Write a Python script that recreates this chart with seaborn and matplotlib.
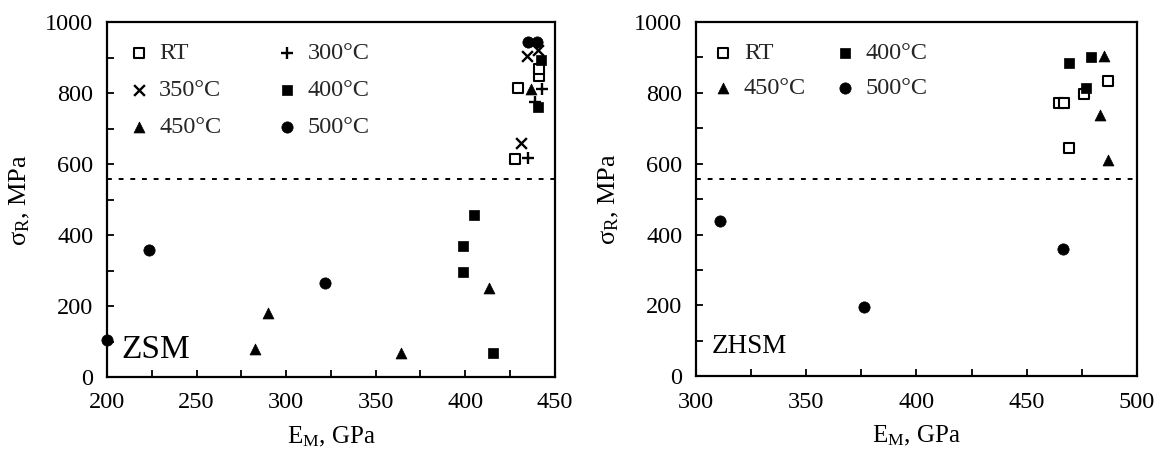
import numpy as np
import pandas as pd
import matplotlib
matplotlib.use("Agg")
import matplotlib.pyplot as plt
import seaborn as sns
from matplotlib.ticker import MultipleLocator

# ---------------- data ----------------
zsm_rt_x = [427.7, 429.5, 441.3, 441.3]
zsm_rt_y = [613, 813, 848, 869]
zsm_300_x = [435.1, 438.8, 443.0]
zsm_300_y = [616, 775, 810]
zsm_350_x = [431.4, 434.5, 440.5]
zsm_350_y = [658, 905, 920]
zsm_400_x = [398.9, 398.9, 404.8, 415.6, 440.7, 442.5]
zsm_400_y = [295, 369, 456, 67, 761, 893]
zsm_450_x = [282.6, 290.0, 364.4, 413.4, 436.6]
zsm_450_y = [78, 181, 67, 250, 810]
zsm_500_x = [200.0, 223.4, 321.7, 435.0, 440.0]
zsm_500_y = [104, 358, 264, 945, 945]

zhsm_rt_x = [464.5, 467.0, 469.2, 476.0, 487.0]
zhsm_rt_y = [770, 770, 643, 797, 833]
zhsm_400_x = [469.2, 476.9, 479.0]
zhsm_400_y = [883, 815, 900]
zhsm_450_x = [483.3, 485.2, 487.0]
zhsm_450_y = [737, 905, 610]
zhsm_500_x = [310.9, 376.2, 466.3]
zhsm_500_y = [439, 196, 358]

threshold = 557

sns.set_theme(style="ticks")
plt.rcParams['font.family'] = ['Liberation Serif', 'DejaVu Serif']
plt.rcParams['mathtext.fontset'] = 'custom'
plt.rcParams['mathtext.rm'] = 'Liberation Serif'
plt.rcParams['mathtext.it'] = 'Liberation Serif:italic'

FS = 17.5

styles = {
    'RT': dict(marker='s', s=48, facecolor='white', edgecolor='black', linewidth=1.5),
    '300°C': dict(marker='+', s=80, color='black', linewidth=1.7),
    '350°C': dict(marker='x', s=60, color='black', linewidth=1.7),
    '400°C': dict(marker='s', s=62, color='black', edgecolor='black', linewidth=0.5),
    '450°C': dict(marker='^', s=62, color='black', edgecolor='black', linewidth=0.5),
    '500°C': dict(marker='o', s=66, color='black', edgecolor='black', linewidth=0.5),
}

fig = plt.figure(figsize=(11.57, 4.49), dpi=100)
ax1 = fig.add_axes([0.0925, 0.160, 0.387, 0.791])
ax2 = fig.add_axes([0.6016, 0.162, 0.381, 0.789])

left_series = [('RT', zsm_rt_x, zsm_rt_y), ('350°C', zsm_350_x, zsm_350_y),
               ('450°C', zsm_450_x, zsm_450_y), ('300°C', zsm_300_x, zsm_300_y),
               ('400°C', zsm_400_x, zsm_400_y), ('500°C', zsm_500_x, zsm_500_y)]
right_series = [('RT', zhsm_rt_x, zhsm_rt_y), ('450°C', zhsm_450_x, zhsm_450_y),
                ('400°C', zhsm_400_x, zhsm_400_y), ('500°C', zhsm_500_x, zhsm_500_y)]

def draw(ax, series, xlim, name, name_size, name_pos):
    for lab, xs, ys in series:
        df = pd.DataFrame({'E': xs, 'S': ys})
        sns.scatterplot(data=df, x='E', y='S', ax=ax, label=lab, clip_on=False,
                        zorder=3, **styles[lab])
    ax.axhline(threshold, color='black', linestyle=(0, (2.5, 3.5)), linewidth=1.4, zorder=1)
    ax.set_xlim(*xlim)
    ax.set_ylim(0, 1000)
    ax.xaxis.set_major_locator(MultipleLocator(50))
    ax.xaxis.set_minor_locator(MultipleLocator(25))
    ax.yaxis.set_major_locator(MultipleLocator(200))
    ax.yaxis.set_minor_locator(MultipleLocator(100))
    ax.tick_params(which='both', direction='in', length=5, width=1.3,
                   labelsize=FS, colors='black')
    ax.tick_params(axis='x', which='both', pad=11)
    ax.tick_params(axis='y', which='both', pad=10)
    for sp in ax.spines.values():
        sp.set_linewidth(1.6)
        sp.set_color('black')
    ax.set_xlabel(r'E$_\mathregular{M}$, GPa', fontsize=FS + 0.5, color='black', labelpad=8)
    ax.set_ylabel(r'σ$_\mathregular{R}$, MPa', fontsize=FS + 1.5, color='black')
    ax.text(name_pos[0], name_pos[1], name, transform=ax.transAxes,
            fontsize=name_size, color='black', ha='left', va='baseline')
    ax.set_facecolor('white')

draw(ax1, left_series, (200, 450), 'ZSM', 24, (0.033, 0.053))
draw(ax2, right_series, (300, 500), 'ZHSM', 19.5, (0.035, 0.065))

ax1.yaxis.set_label_coords(-0.168, 0.5)
ax2.yaxis.set_label_coords(-0.170, 0.5)

ax1.legend(ncol=2, loc='upper left', frameon=False, fontsize=FS,
           bbox_to_anchor=(0.0, 0.985), handletextpad=0.15, columnspacing=2.0,
           labelspacing=0.62, markerscale=1.0, borderaxespad=0.2, handlelength=1.4)
ax2.legend(ncol=2, loc='upper left', frameon=False, fontsize=FS,
           bbox_to_anchor=(-0.01, 0.985), handletextpad=0.15, columnspacing=0.9,
           labelspacing=0.55, markerscale=1.0, borderaxespad=0.2, handlelength=1.4)

fig.patch.set_facecolor('white')
fig.savefig('out.png', dpi=100, facecolor='white')
